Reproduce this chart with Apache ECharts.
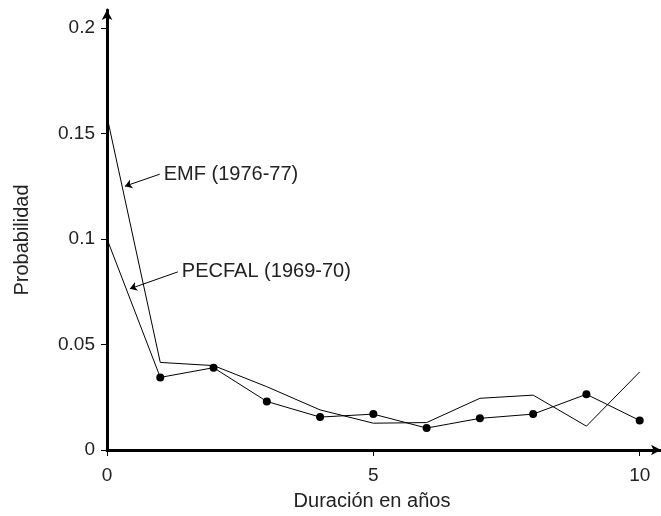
<!DOCTYPE html>
<html><head><meta charset="utf-8">
<script src="https://cdn.jsdelivr.net/npm/echarts@6/dist/echarts.min.js"></script>
<style>html,body{margin:0;padding:0;background:#fff}#c{width:661px;height:516px}</style>
</head><body><div id="c"></div>
<script>
const years = [0,1,2,3,4,5,6,7,8,9,10];
const emf = [0.158,0.0415,0.040,0.030,0.019,0.0127,0.013,0.0245,0.026,0.0113,0.037];
const pecfal = [0.100,0.0344,0.039,0.023,0.0156,0.017,0.0104,0.015,0.017,0.0264,0.014];
const yTicks = [0,0.05,0.1,0.15,0.2];
const xTicks = [0,5,10];
const labels = [
  {text:'EMF (1976-77)', from:[0.99,0.1307], to:[0.337,0.125]},
  {text:'PECFAL (1969-70)', from:[1.33,0.0844], to:[0.43,0.0764]}
];
const font = 'Liberation Sans, Arial, sans-serif';
const chart = echarts.init(document.getElementById('c'));
chart.setOption({
  animation:false,
  grid:{left:107,right:0,top:10,bottom:64},
  xAxis:{type:'value',min:0,max:10.4,
    axisLine:{lineStyle:{color:'#000',width:3},symbol:['none','arrow'],symbolSize:[8,10]},
    axisTick:{customValues:xTicks,length:6,lineStyle:{color:'#000',width:1}},
    axisLabel:{customValues:xTicks,color:'#222',fontSize:19,fontFamily:font,margin:16,formatter:v=>String(v)},
    splitLine:{show:false},
    name:'Duración en años',nameLocation:'middle',nameGap:41,
    nameTextStyle:{color:'#222',fontSize:20,fontFamily:font,padding:[0,24,0,0]}
  },
  yAxis:{type:'value',min:0,max:0.2085,
    axisLine:{show:true,lineStyle:{color:'#000',width:3},symbol:['none','arrow'],symbolSize:[8,10]},
    axisTick:{show:true,customValues:yTicks,length:6,lineStyle:{color:'#000',width:1}},
    axisLabel:{customValues:yTicks,color:'#222',fontSize:19,fontFamily:font,margin:12,formatter:v=>String(v)},
    splitLine:{show:false},
    name:'Probabilidad',nameLocation:'middle',nameGap:75,
    nameTextStyle:{color:'#222',fontSize:20,fontFamily:font,padding:[0,20,0,0]}
  },
  series:[
    {type:'line',name:'EMF',data:years.map((x,i)=>[x,emf[i]]),showSymbol:false,
     lineStyle:{color:'#000',width:1},z:3,
     markLine:{silent:true,symbol:['none','arrow'],symbolSize:7,label:{show:false},
       lineStyle:{color:'#000',width:1,type:'solid'},
       data:labels.map(l=>[{coord:l.from},{coord:l.to}])}},
    {type:'line',name:'PECFAL',data:years.map((x,i)=>i===0?{value:[x,pecfal[i]],symbolSize:0}:[x,pecfal[i]]),
     symbol:'circle',symbolSize:8,itemStyle:{color:'#000'},
     lineStyle:{color:'#000',width:1},z:3}
  ]
});
const g = labels.map(l=>{
  const p = chart.convertToPixel({gridIndex:0},l.from);
  return {type:'text',x:p[0]+4,y:p[1],style:{text:l.text,fontSize:20,fontFamily:font,fill:'#222',verticalAlign:'middle'}};
});
chart.setOption({graphic:g});
</script></body></html>
